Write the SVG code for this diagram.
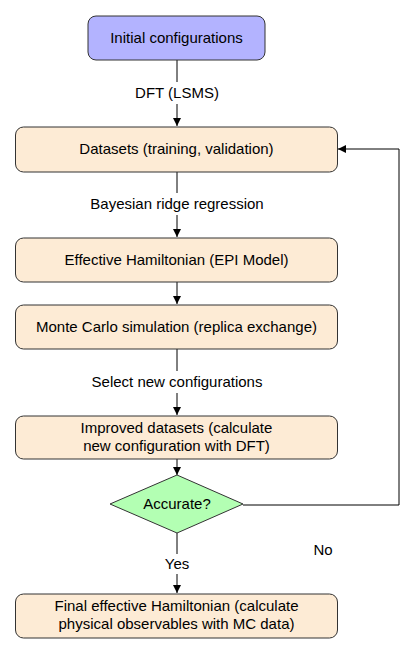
<svg xmlns="http://www.w3.org/2000/svg" width="415" height="654" viewBox="0 0 415 654">
<defs>
<marker id="arr" viewBox="0 0 10 10" refX="10" refY="5" markerWidth="8" markerHeight="8" markerUnits="userSpaceOnUse" orient="auto">
<path d="M0,0 L10,5 L0,10 z" fill="#000"/>
</marker>
<style>
.box{fill:#fdebd5;stroke:#333;stroke-width:1}
.start{fill:#b3b3ff;stroke:#333;stroke-width:1}
.dec{fill:#b3ffb3;stroke:#333;stroke-width:1}
text{font-family:"Liberation Sans",Arial,sans-serif;font-size:15px;fill:#000;text-anchor:middle}
.ln{stroke:#000;stroke-width:1;fill:none}
.lb{fill:#fff}
</style>
</defs>
<rect width="415" height="654" fill="#fff"/>
<g id="connectors">
<line class="ln" x1="177" y1="60" x2="177" y2="126" marker-end="url(#arr)"/>
<line class="ln" x1="177" y1="172" x2="177" y2="237" marker-end="url(#arr)"/>
<line class="ln" x1="177" y1="282" x2="177" y2="304" marker-end="url(#arr)"/>
<line class="ln" x1="177" y1="349" x2="177" y2="415" marker-end="url(#arr)"/>
<line class="ln" x1="177" y1="459" x2="177" y2="475" marker-end="url(#arr)"/>
<line class="ln" x1="177" y1="533" x2="177" y2="593" marker-end="url(#arr)"/>
<polyline class="ln" points="243,505 399,505 399,149 338,149" marker-end="url(#arr)"/>
<rect class="lb" x="118" y="82" width="118" height="22"/>
<text x="177" y="98">DFT (LSMS)</text>
<rect class="lb" x="82" y="193" width="190" height="22"/>
<text x="177" y="209">Bayesian ridge regression</text>
<rect class="lb" x="87" y="371" width="180" height="22"/>
<text x="177" y="387">Select new configurations</text>
<rect class="lb" x="160" y="554" width="34" height="20"/>
<text x="177" y="569">Yes</text>
<text x="323" y="555">No</text>
</g>
<g id="initial">
<rect class="start" x="88" y="16" width="177" height="44" rx="8"/>
<text x="176.5" y="43">Initial configurations</text>
</g>
<g id="datasets">
<rect class="box" x="15.5" y="127" width="322" height="45" rx="8"/>
<text x="176.5" y="154">Datasets (training, validation)</text>
</g>
<g id="hamiltonian">
<rect class="box" x="15.5" y="238" width="322" height="44" rx="8"/>
<text x="176.5" y="265">Effective Hamiltonian (EPI Model)</text>
</g>
<g id="montecarlo">
<rect class="box" x="15.5" y="305" width="322" height="44" rx="8"/>
<text x="176.5" y="332">Monte Carlo simulation (replica exchange)</text>
</g>
<g id="improved">
<rect class="box" x="15.5" y="416" width="322" height="43" rx="8"/>
<text x="176.5" y="433">Improved datasets (calculate</text>
<text x="176.5" y="451">new configuration with DFT)</text>
</g>
<g id="accurate">
<polygon class="dec" points="177,475 243,504 177,533 110,504"/>
<text x="177" y="509">Accurate?</text>
</g>
<g id="final">
<rect class="box" x="15.5" y="594" width="322" height="44" rx="8"/>
<text x="176.5" y="611">Final effective Hamiltonian (calculate</text>
<text x="176.5" y="629">physical observables with MC data)</text>
</g>
</svg>
